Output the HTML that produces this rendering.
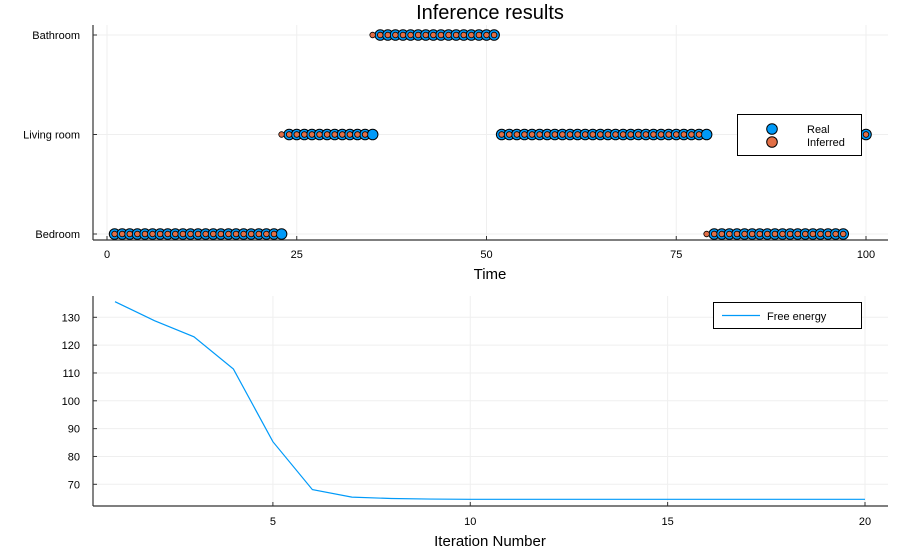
<!DOCTYPE html>
<html><head><meta charset="utf-8"><style>
body{margin:0;background:#fff;}
svg{display:block;font-family:"Liberation Sans",sans-serif;}
</style></head><body>
<svg id="chart" width="900" height="550">
</svg>
<script>
// Top chart data
const rooms = ["Bedroom","Living room","Bathroom"];
const realStates = [];   // index t (1..100), value room index or null
const inferredStates = [];
const timeTicks = [0,25,50,75,100];
// Bottom chart data
const iterations = [1,2,3,4,5,6,7,8,9,10,11,12,13,14,15,16,17,18,19,20];
const freeEnergy = [135.6,128.8,123.0,111.4,85.3,68.1,65.4,64.9,64.7,64.6,64.6,64.6,64.6,64.6,64.6,64.6,64.6,64.6,64.6,64.6];
const energyTicks = [70,80,90,100,110,120,130];
const iterTicks = [5,10,15,20];

const realRuns = [[1,23,0],[24,35,1],[36,51,2],[52,79,1],[80,97,0],[100,100,1]];
const infRuns = [[1,22,0],[23,34,1],[35,51,2],[52,78,1],[79,97,0],[100,100,1]];
for(let t=0;t<=100;t++){realStates[t]=null;inferredStates[t]=null;}
realRuns.forEach(r=>{for(let t=r[0];t<=r[1];t++)realStates[t]=r[2];});
infRuns.forEach(r=>{for(let t=r[0];t<=r[1];t++)inferredStates[t]=r[2];});

const svg=document.getElementById('chart');
const NS="http://www.w3.org/2000/svg";
function mk(tag,attrs,parent){const e=document.createElementNS(NS,tag);for(const k in attrs)e.setAttribute(k,attrs[k]);(parent||svg).appendChild(e);return e;}
function txt(x,y,s,size,anchor,parent){const e=mk('text',{x:x,y:y,'font-size':size,'text-anchor':anchor||'middle',fill:'#000'},parent);e.textContent=s;return e;}
const GRID='#efefef';

// ---------- Top chart ----------
const tx=v=>107+(v-0)*(866-107)/100;
const ty=v=>234-v*(234-35)/2;
const topG=mk('g',{});


const t1=txt(490,19,"Inference results",20,'middle',topG);


timeTicks.forEach(v=>{
  mk('line',{x1:tx(v),x2:tx(v),y1:25,y2:240,stroke:GRID,'stroke-width':1},topG);
  mk('line',{x1:tx(v),x2:tx(v),y1:240,y2:236,stroke:'#333','stroke-width':1},topG);
  const l=txt(tx(v),258,String(v),11,'middle',topG);
  
  
});
rooms.forEach((r,i)=>{
  mk('line',{x1:93,x2:888,y1:ty(i),y2:ty(i),stroke:GRID,'stroke-width':1},topG);
  mk('line',{x1:93,x2:97,y1:ty(i),y2:ty(i),stroke:'#333','stroke-width':1},topG);
  const l=txt(80,ty(i)+4,r,11,'end',topG);
  
  
});
mk('line',{x1:93,x2:93,y1:25,y2:240,stroke:'#333','stroke-width':1.2},topG);
mk('line',{x1:93,x2:888,y1:240,y2:240,stroke:'#333','stroke-width':1.2},topG);
const xt=txt(490,279,"Time",15,'middle',topG);


for(let t=0;t<=100;t++){
  if(realStates[t]===null)continue;
  const c=mk('circle',{cx:tx(t),cy:ty(realStates[t]),r:5.3,fill:'#009af9',stroke:'#000','stroke-width':1},topG);
  
  
}
for(let t=0;t<=100;t++){
  if(inferredStates[t]===null)continue;
  const c=mk('circle',{cx:tx(t),cy:ty(inferredStates[t]),r:2.8,fill:'#e26f46',stroke:'#000','stroke-width':0.8},topG);
  
  
}
const lg=mk('g',{},topG);


mk('rect',{x:737.5,y:114.5,width:124,height:41,fill:'#fff',stroke:'#000','stroke-width':1},lg);
mk('circle',{cx:772,cy:129,r:5.3,fill:'#009af9',stroke:'#000','stroke-width':1},lg);
mk('circle',{cx:772,cy:142,r:5.3,fill:'#e26f46',stroke:'#000','stroke-width':1},lg);
const le1=txt(807,133,"Real",11,'start',lg);


const le2=txt(807,146,"Inferred",11,'start',lg);



// ---------- Bottom chart ----------
const bx=v=>115+(v-1)*(865-115)/19;
const by=v=>484.3-(v-70)*(484.3-317.3)/60;
const bot=mk('g',{});


iterTicks.forEach(v=>{
  mk('line',{x1:bx(v),x2:bx(v),y1:296,y2:506,stroke:GRID,'stroke-width':1},bot);
  mk('line',{x1:bx(v),x2:bx(v),y1:506,y2:502,stroke:'#333','stroke-width':1},bot);
  const l=txt(bx(v),525,String(v),11,'middle',bot);
  
  
});
energyTicks.forEach(v=>{
  mk('line',{x1:93,x2:888,y1:by(v),y2:by(v),stroke:GRID,'stroke-width':1},bot);
  mk('line',{x1:93,x2:97,y1:by(v),y2:by(v),stroke:'#333','stroke-width':1},bot);
  const l=txt(80,by(v)+4,String(v),11,'end',bot);
  
  
});
mk('line',{x1:93,x2:93,y1:296,y2:506,stroke:'#333','stroke-width':1.2},bot);
mk('line',{x1:93,x2:888,y1:506,y2:506,stroke:'#333','stroke-width':1.2},bot);
const pts=iterations.map((it,i)=>bx(it)+','+by(freeEnergy[i])).join(' ');
const pl=mk('polyline',{points:pts,fill:'none',stroke:'#009af9','stroke-width':1.2},bot);


const xt2=txt(490,546,"Iteration Number",15,'middle',bot);


const lg2=mk('g',{},bot);


mk('rect',{x:713.5,y:302.5,width:148,height:26,fill:'#fff',stroke:'#000','stroke-width':1},lg2);
mk('line',{x1:722,x2:760,y1:315.5,y2:315.5,stroke:'#009af9','stroke-width':1.2},lg2);
const le3=txt(767,320,"Free energy",11,'start',lg2);


</script>
</body></html>
